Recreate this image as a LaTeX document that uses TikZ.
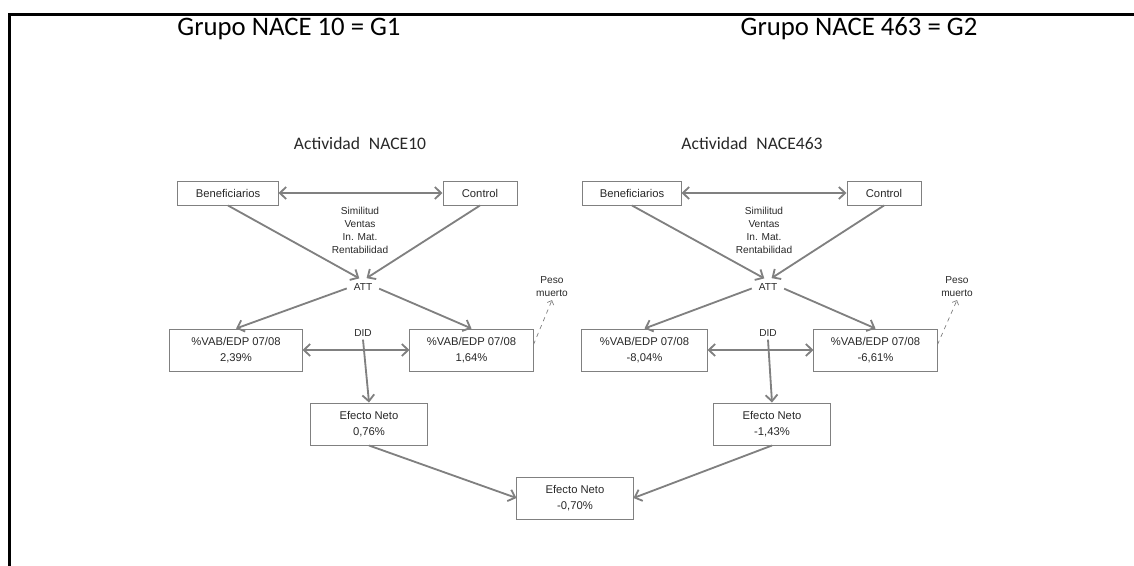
\documentclass[tikz,border=0pt]{standalone}
\usepackage{fontspec}
\setmainfont{Liberation Sans}
\newfontfamily\calibri{Carlito}
\usetikzlibrary{arrows.meta}
\definecolor{linegray}{RGB}{128,128,128}
\definecolor{txtgray}{RGB}{40,40,40}
\begin{document}
\begin{tikzpicture}[
  x=0.025cm, y=-0.025cm,
  title/.style={font=\calibri\fontsize{19}{22}\selectfont, text=black},
  act/.style={font=\calibri\fontsize{12.5}{15}\selectfont, text=txtgray},
  box/.style={rectangle, draw=linegray, line width=0.7pt, fill=white, align=center, text=txtgray, font=\fontsize{8}{11.5}\selectfont, minimum height=1.05cm, inner sep=2pt},
  small/.style={rectangle, draw=linegray, line width=0.7pt, fill=white, text=txtgray, font=\fontsize{8}{10}\selectfont, minimum height=0.6cm, inner sep=2pt},
  lbl/.style={align=center, text=txtgray, font=\fontsize{7.2}{9.2}\selectfont, inner sep=2pt},
  flow/.style={line width=1.3pt, draw=linegray, -{Straight Barb[length=4.5pt, width=8.5pt]}},
  both/.style={line width=1.3pt, draw=linegray, {Straight Barb[length=4.5pt, width=8.5pt]}-{Straight Barb[length=4.5pt, width=8.5pt]}},
  dead/.style={line width=0.5pt, draw=linegray, dashed, -{Straight Barb[length=2.5pt, width=5pt]}},
  frame/.style={line width=2pt, draw=black}
]
  \useasboundingbox (0,0) rectangle (1134,566);
  \draw[frame] (9.3,580) -- (9.3,14.3) -- (1150,14.3);

  %% ── Group 1: NACE 10 ─────────────────────────────────────────────────────
  \node[title] (tit1) at (289,29) {Grupo NACE 10 = G1};
  \node[act] (act1) at (360,143) {Actividad\enspace NACE10};
  \node[small, minimum width=2.5cm] (ben1) at (228,193) {Beneficiarios};
  \node[small, minimum width=1.85cm] (con1) at (480,193) {Control};
  \node[lbl] (sim1) at (360,230) {Similitud\\Ventas\\In. Mat.\\Rentabilidad};
  \node[lbl] (att1) at (363,287) {ATT};
  \node[box, minimum width=3.3cm] (vl1) at (236,350) {\%VAB/EDP 07/08\\2,39\%};
  \node[box, minimum width=3.075cm] (vr1) at (471.5,350) {\%VAB/EDP 07/08\\1,64\%};
  \node[lbl] (did1) at (363,333) {DID};
  \node[box, minimum width=2.9cm] (en1) at (369,424) {Efecto Neto\\0,76\%};
  \node[lbl] (peso1) at (552,287) {Peso\\muerto};

  %% ── Group 2: NACE 463 ────────────────────────────────────────────────────
  \node[title] (tit2) at (859,29) {Grupo NACE 463 = G2};
  \node[act] (act2) at (752,143) {Actividad\enspace NACE463};
  \node[small, minimum width=2.45cm] (ben2) at (632,193) {Beneficiarios};
  \node[small, minimum width=1.85cm] (con2) at (884,193) {Control};
  \node[lbl] (sim2) at (764,230) {Similitud\\Ventas\\In. Mat.\\Rentabilidad};
  \node[lbl] (att2) at (768,287) {ATT};
  \node[box, minimum width=3.125cm] (vl2) at (644.5,350) {\%VAB/EDP 07/08\\-8,04\%};
  \node[box, minimum width=3.075cm] (vr2) at (875.5,350) {\%VAB/EDP 07/08\\-6,61\%};
  \node[lbl] (did2) at (768,333) {DID};
  \node[box, minimum width=2.9cm] (en2) at (772,424) {Efecto Neto\\-1,43\%};
  \node[lbl] (peso2) at (957,287) {Peso\\muerto};

  %% ── Total ────────────────────────────────────────────────────────────────
  \node[box, minimum width=2.9cm] (ent) at (575,498) {Efecto Neto\\-0,70\%};

  %% ── Connectors ───────────────────────────────────────────────────────────
  % Beneficiarios ↔ Control
  \draw[both] (ben1) -- (con1);
  \draw[both] (ben2) -- (con2);
  % matching → ATT
  \draw[flow, shorten >=3pt] (ben1.south) -- (att1.north);
  \draw[flow, shorten >=3pt] (con1.south) -- (att1.north);
  \draw[flow, shorten >=3pt] (ben2.south) -- (att2.north);
  \draw[flow, shorten >=3pt] (con2.south) -- (att2.north);
  % ATT → both groups
  \draw[flow, shorten <=3pt] (att1.west) -- (vl1.north);
  \draw[flow, shorten <=3pt] (att1.east) -- (vr1.north);
  \draw[flow, shorten <=3pt] (att2.west) -- (vl2.north);
  \draw[flow, shorten <=3pt] (att2.east) -- (vr2.north);
  % DID
  \draw[both] (vl1) -- (vr1);
  \draw[both] (vl2) -- (vr2);
  \draw[flow] (did1.south) -- (en1.north);
  \draw[flow] (did2.south) -- (en2.north);
  % dead weight
  \draw[dead] (vr1.5) -- (peso1.south);
  \draw[dead] (vr2.5) -- (peso2.south);
  % net effects → total
  \draw[flow] (en1.south) -- (ent.west);
  \draw[flow] (en2.south) -- (ent.east);
\end{tikzpicture}
\end{document}
